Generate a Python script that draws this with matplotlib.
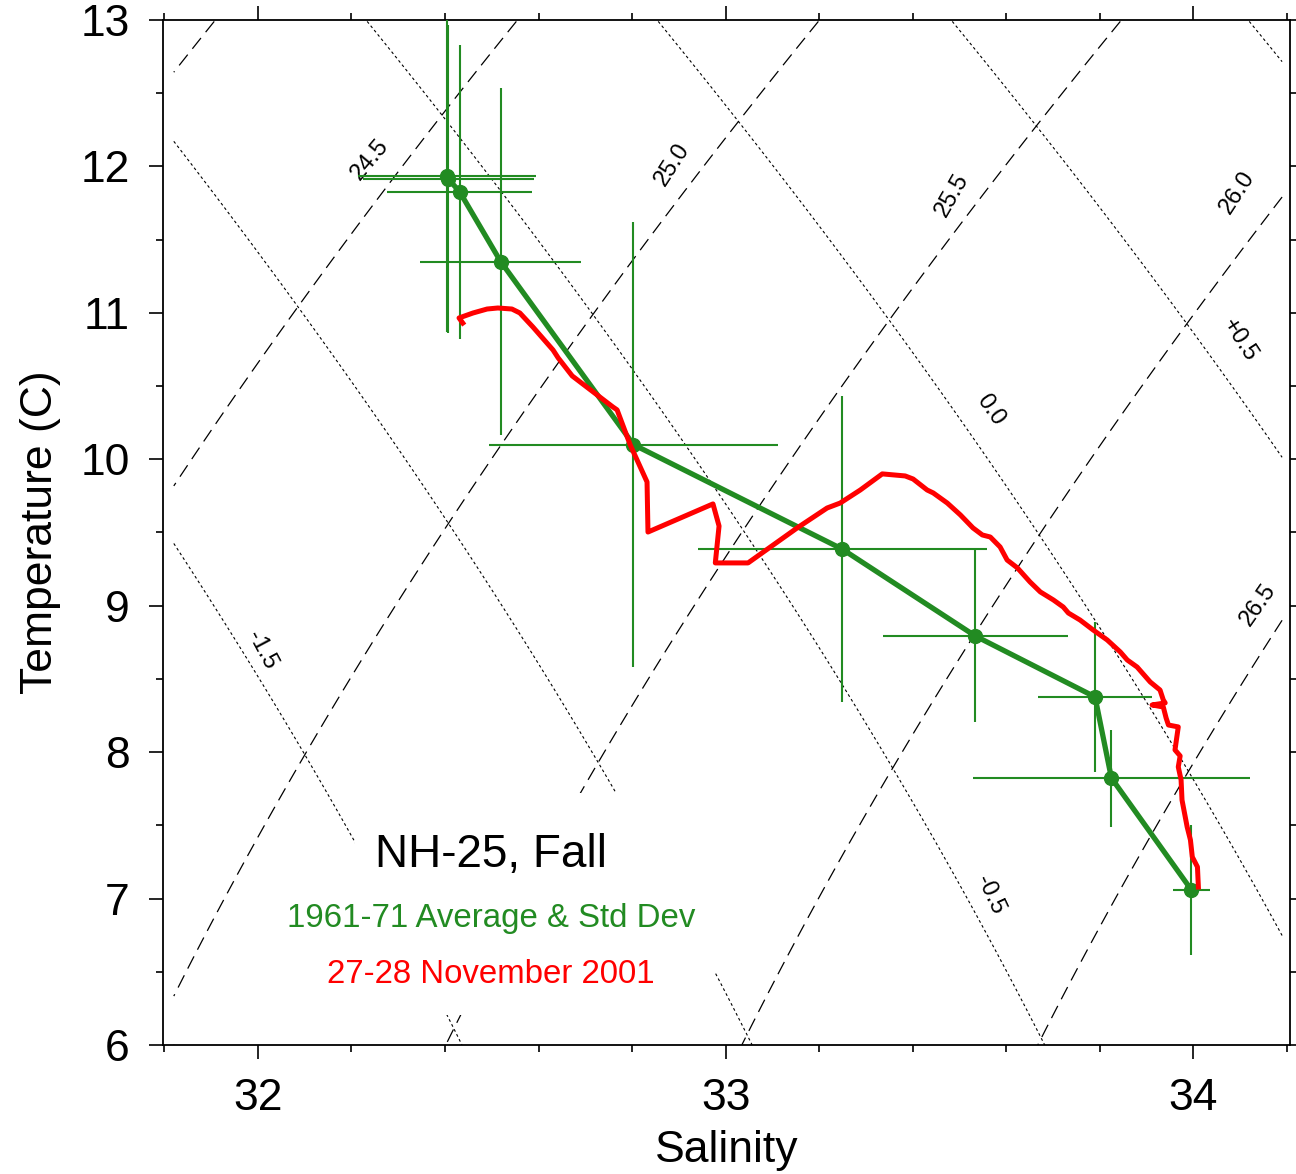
import numpy as np
import matplotlib
matplotlib.use("Agg")
import matplotlib.pyplot as plt
from matplotlib.patches import Rectangle

plt.rcParams['font.family'] = ['Liberation Sans', 'DejaVu Sans']

# 1961-71 station averages (salinity, temperature) and std devs
avg_sal = [32.404, 32.407, 32.431, 32.519, 32.803, 33.249, 33.534, 33.790, 33.825, 33.996]
avg_temp = [11.937, 11.914, 11.828, 11.350, 10.100, 9.387, 8.793, 8.377, 7.823, 7.059]
sd_sal = [0.190, 0.183, 0.156, 0.172, 0.308, 0.309, 0.198, 0.121, 0.297, 0.040]
sd_temp = [1.07, 1.05, 1.004, 1.185, 1.52, 1.045, 0.587, 0.512, 0.331, 0.444]

# 27-28 November 2001 CTD profile
ctd_sal = [32.438, 32.430, 32.460, 32.490, 32.513, 32.543, 32.560, 32.588, 32.631, 32.642,
           32.672, 32.759, 32.768, 32.796, 32.832, 32.834, 32.973, 32.986, 32.978, 33.048,
           33.153, 33.217, 33.245, 33.288, 33.335, 33.384, 33.401, 33.431, 33.444, 33.474,
           33.502, 33.529, 33.549, 33.566, 33.587, 33.602, 33.624, 33.651, 33.673, 33.701,
           33.722, 33.733, 33.758, 33.786, 33.816, 33.844, 33.859, 33.880, 33.908, 33.929,
           33.936, 33.940, 33.912, 33.936, 33.942, 33.947, 33.968, 33.964, 33.961, 33.972,
           33.968, 33.974, 33.976, 33.987, 33.994, 33.998, 34.009, 34.011]
ctd_temp = [10.930, 10.965, 10.999, 11.026, 11.033, 11.026, 10.999, 10.903, 10.746, 10.692,
            10.569, 10.357, 10.337, 10.098, 9.845, 9.503, 9.695, 9.544, 9.292, 9.292,
            9.531, 9.667, 9.701, 9.790, 9.900, 9.886, 9.865, 9.790, 9.770, 9.701,
            9.620, 9.531, 9.483, 9.469, 9.401, 9.312, 9.258, 9.162, 9.094, 9.039,
            8.991, 8.950, 8.902, 8.834, 8.766, 8.684, 8.629, 8.581, 8.479, 8.424,
            8.356, 8.336, 8.322, 8.308, 8.233, 8.185, 8.172, 8.083, 8.015, 7.974,
            7.899, 7.810, 7.673, 7.489, 7.400, 7.284, 7.216, 7.079]

sigma_levels = [24.0, 24.5, 25.0, 25.5, 26.0, 26.5, 27.0]
spice_levels = [-2.0, -1.5, -1.0, -0.5, 0.0, 0.5, 1.0, 1.5]


def sigma_t(S, T):
    rw = (999.842594 + 6.793952e-2 * T - 9.095290e-3 * T**2 + 1.001685e-4 * T**3
          - 1.120083e-6 * T**4 + 6.536332e-9 * T**5)
    rho = (rw + S * (0.824493 - 4.0899e-3 * T + 7.6438e-5 * T**2 - 8.2467e-7 * T**3 + 5.3875e-9 * T**4)
           + S**1.5 * (-5.72466e-3 + 1.0227e-4 * T - 1.6546e-6 * T**2) + 4.8314e-4 * S**2)
    return rho - 1000.0


# Flament (2002) spiciness
B = np.array([[0, 7.7442e-01, -5.85e-03, -9.84e-04, -2.06e-04],
              [5.1655e-02, 2.034e-03, -2.742e-04, -8.5e-06, 1.36e-05],
              [6.64783e-03, -2.4681e-04, -1.428e-05, 3.337e-05, 7.894e-06],
              [-5.4023e-05, 7.326e-06, 7.0036e-06, -3.0412e-06, -1.0853e-06],
              [3.949e-07, -3.029e-08, -3.8209e-07, 1.0012e-07, 4.7133e-08],
              [-6.36e-10, -1.309e-09, 6.048e-09, -1.1409e-09, -6.676e-10]])


def spice(S, T):
    s = S - 35.0
    out = np.zeros_like(S)
    for i in range(6):
        for j in range(5):
            out += B[i, j] * T**i * s**j
    return out


fig = plt.figure(figsize=(12.96, 11.74), dpi=100)
ax = fig.add_axes([0.1258, 0.1099, 0.8696, 0.8731])

SS, TT = np.meshgrid(np.linspace(31.82, 34.19, 300), np.linspace(6.0, 12.99, 300))
ax.contour(SS, TT, sigma_t(SS, TT), levels=sigma_levels, colors='k',
           linewidths=0.9, linestyles=[(0, (11, 6))], zorder=1)
ax.contour(SS, TT, spice(SS, TT), levels=spice_levels, colors='k',
           linewidths=0.8, linestyles=[(0, (2.5, 2.5))], zorder=1)

# contour labels
lab_kw = dict(fontsize=17, ha='center', va='center', zorder=2)
ax.text(32.240, 12.044, '24.5', rotation=50, **lab_kw)
ax.text(32.886, 12.010, '25.0', rotation=57, **lab_kw)
ax.text(33.484, 11.805, '25.5', rotation=60, **lab_kw)
ax.text(34.094, 11.820, '26.0', rotation=57, **lab_kw)
ax.text(34.139, 9.005, '26.5', rotation=55, **lab_kw)
ax.text(32.009, 8.698, '-1.5', rotation=-62, **lab_kw)
ax.text(33.566, 7.024, '-0.5', rotation=-65, **lab_kw)
ax.text(33.566, 10.337, '0.0', rotation=-55, **lab_kw)
ax.text(34.100, 10.815, '+0.5', rotation=-57, **lab_kw)

# white key area
ax.add_patch(Rectangle((32.207, 6.205), 0.771, 1.516, facecolor='white',
                       edgecolor='none', zorder=3))

ax.errorbar(avg_sal, avg_temp, xerr=sd_sal, yerr=sd_temp, fmt='o-', color='#228B22',
            ecolor='#228B22', elinewidth=1.5, capsize=0, lw=3.8, ms=10, zorder=4)
ax.plot(ctd_sal, ctd_temp, color='#ff0000', lw=3.6, zorder=5)

ax.text(32.498, 7.298, 'NH-25, Fall', fontsize=33, ha='center', va='center', zorder=6)
ax.text(32.498, 6.867, '1961-71 Average & Std Dev', fontsize=23.8, color='#228B22',
        ha='center', va='center', zorder=6)
ax.text(32.498, 6.478, '27-28 November 2001', fontsize=23.8, color='#ff0000',
        ha='center', va='center', zorder=6)

ax.set_xlim(31.797, 34.207)
ax.set_ylim(6, 13)
ax.set_xticks([32, 33, 34])
ax.set_xticks(np.arange(31.8, 34.21, 0.2), minor=True)
ax.set_yticks(range(6, 14))
ax.set_yticks(np.arange(6, 13.01, 0.5), minor=True)
ax.tick_params(which='both', direction='out', top=True, right=True, width=1.2,
               labelsize=32)
ax.tick_params(which='major', length=10)
ax.tick_params(which='minor', length=5)
ax.tick_params(axis='y', pad=14)
ax.tick_params(axis='x', pad=14)
for sp in ax.spines.values():
    sp.set_linewidth(1.3)

ax.set_xlabel('Salinity', fontsize=32, labelpad=8)
ax.set_ylabel('Temperature (C)', fontsize=32, labelpad=14)

fig.savefig('out.png', dpi=100)
